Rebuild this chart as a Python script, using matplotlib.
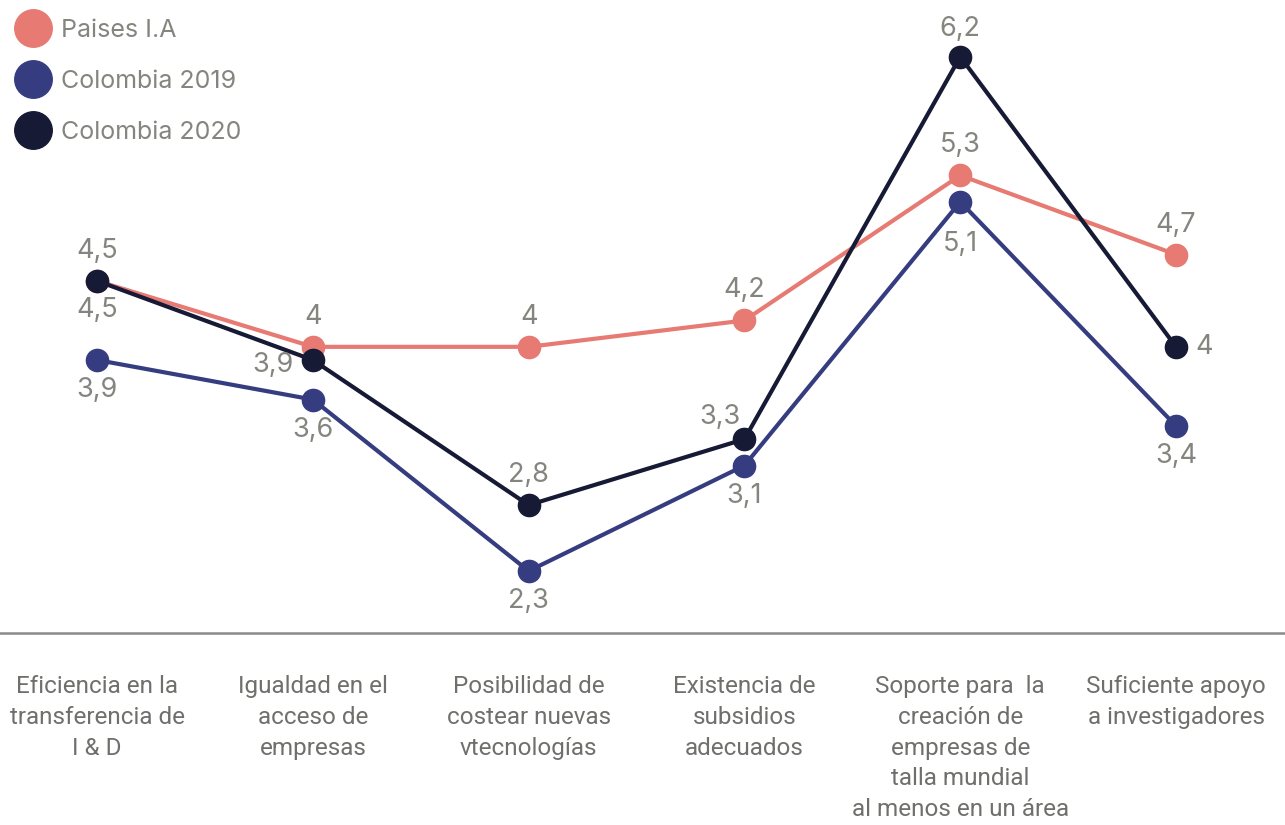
import matplotlib
matplotlib.use("Agg")
import matplotlib.pyplot as plt
from matplotlib.lines import Line2D

categories = [
    "Eficiencia en la\ntransferencia de\nI & D",
    "Igualdad en el\nacceso de\nempresas",
    "Posibilidad de\ncostear nuevas\nvtecnologías",
    "Existencia de\nsubsidios\nadecuados",
    "Soporte para  la\ncreación de\nempresas de\ntalla mundial\nal menos en un área",
    "Suficiente apoyo\na investigadores",
]
series_names = ["Paises I.A", "Colombia 2019", "Colombia 2020"]
paises_ia = [4.5, 4.0, 4.0, 4.2, 5.3, 4.7]
colombia_2019 = [3.9, 3.6, 2.3, 3.1, 5.1, 3.4]
colombia_2020 = [4.5, 3.9, 2.8, 3.3, 6.2, 4.0]

colors = ["#E77A73", "#353D80", "#161A35"]
text_grey = "#858580"
font = ["Inter", "DejaVu Sans"]
cat_font = ["Roboto", "DejaVu Sans"]

# label offsets per point: (dx, dy) in pixels, text centred on the result
pos_paises = [(0, 30)] * 6
pos_2019 = [(0, -30), (0, -30), (0, -30), (0, -30), (0, -42), (0, -30)]
pos_2020 = [(0, -29), (-40, -5), (0, 30), (-25, 22), (0, 28), (28, 0)]

W, H = 1285, 825
fig = plt.figure(figsize=(W / 100, H / 100), dpi=100)
ax = fig.add_axes([0, (H - 633) / H, 1, 633 / H])

x = list(range(len(categories)))
all_series = [paises_ia, colombia_2019, colombia_2020]
all_pos = [pos_paises, pos_2019, pos_2020]
for i, (vals, pos) in enumerate(zip(all_series, all_pos)):
    ax.plot(x, vals, color=colors[i], lw=3.0, marker="o", ms=16,
            solid_joinstyle="round", solid_capstyle="round", zorder=2 + i)
    for xi, yi, (dx, dy) in zip(x, vals, pos):
        lbl = f"{yi:g}".replace(".", ",")
        ax.annotate(lbl, (xi, yi), xytext=(dx, dy), textcoords="offset pixels",
                    ha="center", va="center", fontsize=19.5, color=text_grey,
                    family=font, zorder=10)

ax.set_xlim(-0.45, 5.505)
ax.set_ylim(1.83, 6.63)
for s in ["top", "left", "right"]:
    ax.spines[s].set_visible(False)
ax.spines["bottom"].set_color("#8a8a88")
ax.spines["bottom"].set_linewidth(1.8)
ax.set_yticks([])
ax.set_xticks(x)
ax.set_xticklabels(categories, fontsize=17.5, color="#6f6f6c", family=cat_font,
                   linespacing=1.44, va="top")
ax.tick_params(axis="x", length=0, pad=30)

handles = [Line2D([], [], color=c, marker="o", ms=27, lw=0) for c in colors]
leg = fig.legend(handles, series_names, loc="upper left",
                 bbox_to_anchor=(10.5 / W, 1 - 14 / H),
                 bbox_transform=fig.transFigure, frameon=False,
                 prop={"family": font, "size": 18}, labelspacing=1.12,
                 handletextpad=0.42, borderaxespad=0.0, borderpad=0.2,
                 handlelength=1.4)
for t in leg.get_texts():
    t.set_color(text_grey)

fig.savefig("out.png", dpi=100)
